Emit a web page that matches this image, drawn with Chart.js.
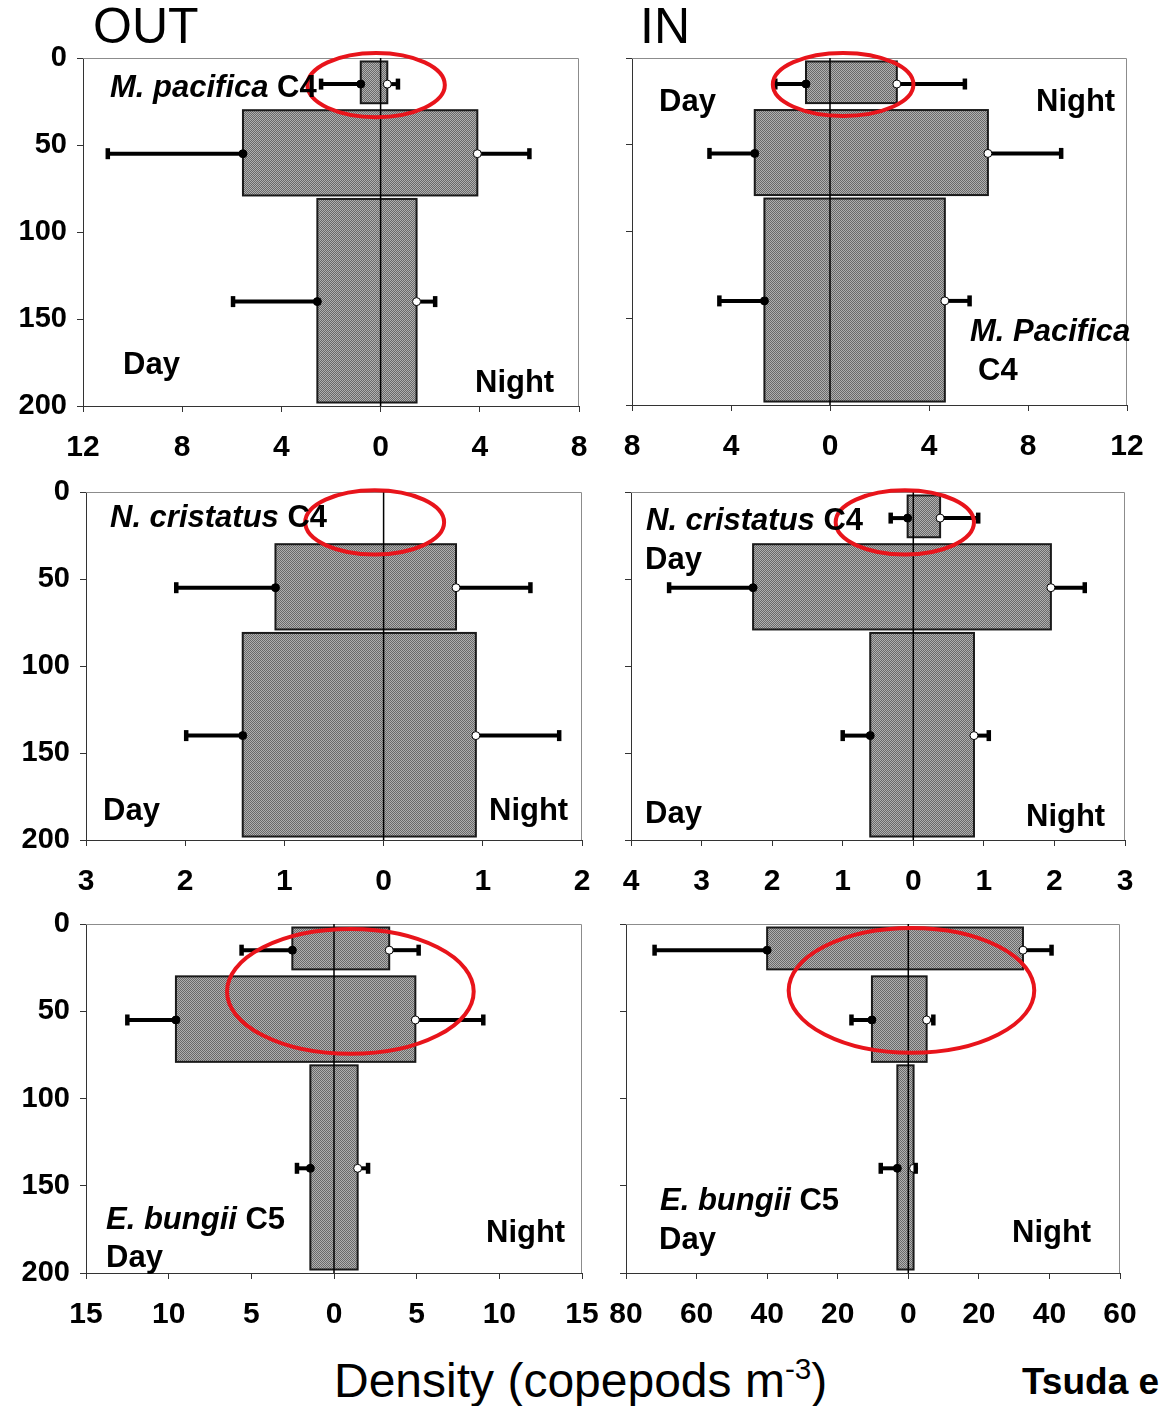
<!DOCTYPE html>
<html>
<head>
<meta charset="utf-8">
<script src="https://cdn.jsdelivr.net/npm/chart.js@4.4.1/dist/chart.umd.min.js"></script>
<style>
  body { margin: 0; width: 1160px; height: 1406px; position: relative; background: #fff; overflow: hidden; font-family: "Liberation Sans", Arial, sans-serif; }
  canvas { position: absolute; }
  .t { position: absolute; line-height: 1; white-space: nowrap; color: #000; }
  .t sup { font-size: 0.62em; vertical-align: 0.62em; }
</style>
</head>
<body>
<div class="t" style="left:93px; top:1px; font-size:50px;">OUT</div>
<div class="t" style="left:640px; top:1px; font-size:50px;">IN</div>
<div class="t" style="left:334px; top:1354px; font-size:48px;">Density (copepods m<sup>-3</sup>)</div>
<div class="t" style="left:1022px; top:1363px; font-size:37px; font-weight:bold;">Tsuda e</div>

<script>
// depth bins (m) shared by all panels
const binTop = [2, 30, 81];
const binBottom = [26, 79, 198];
const sampleDepth = [15, 55, 140];
const depthTicks = [0, 50, 100, 150, 200];

// OUT - M. pacifica C4 (bar = mean, Hi = end of whisker)
const outPacTicks = [-12, -8, -4, 0, 4, 8];
const outPacDay = [0.8, 5.55, 2.55];
const outPacDayHi = [2.4, 11.0, 5.95];
const outPacNight = [0.27, 3.9, 1.45];
const outPacNightHi = [0.7, 6.0, 2.2];

// IN - M. pacifica C4
const inPacTicks = [-8, -4, 0, 4, 8, 12];
const inPacDay = [0.97, 3.04, 2.65];
const inPacDayHi = [2.21, 4.87, 4.47];
const inPacNight = [2.7, 6.38, 4.64];
const inPacNightHi = [5.45, 9.34, 5.64];

// OUT - N. cristatus C4
const outCriTicks = [-3, -2, -1, 0, 1, 2];
const outCriDay = [0, 1.09, 1.42];
const outCriDayHi = [null, 2.09, 1.99];
const outCriNight = [0, 0.73, 0.93];
const outCriNightHi = [null, 1.48, 1.77];

// IN - N. cristatus C4
const inCriTicks = [-4, -3, -2, -1, 0, 1, 2, 3];
const inCriDay = [0.08, 2.27, 0.61];
const inCriDayHi = [0.32, 3.46, 1.0];
const inCriNight = [0.38, 1.95, 0.86];
const inCriNightHi = [0.92, 2.43, 1.07];

// OUT - E. bungii C5
const outBunTicks = [-15, -10, -5, 0, 5, 10, 15];
const outBunDay = [2.52, 9.56, 1.43];
const outBunDayHi = [5.59, 12.5, 2.24];
const outBunNight = [3.34, 4.92, 1.43];
const outBunNightHi = [5.12, 9.03, 2.06];

// IN - E. bungii C5
const inBunTicks = [-80, -60, -40, -20, 0, 20, 40, 60];
const inBunDay = [40, 10.3, 3.1];
const inBunDayHi = [71.9, 16.1, 7.8];
const inBunNight = [32.5, 5.2, 1.5];
const inBunNightHi = [40.6, 7.1, 2.1];

const FONT = '"Liberation Sans", Arial, sans-serif';
const YW = 80, PT = 20, PR = 25, XH = 60;

const panels = [
  { L: 83, T: 58, R: 579, B: 406, ticks: outPacTicks, day: outPacDay, dayHi: outPacDayHi, night: outPacNight, nightHi: outPacNightHi,
    depthLabels: true, ring: [-2.95, 2.59, -2.9, 34],
    labels: [
      { dx: 27, dy: 30, parts: [['M. pacifica', true], [' C4', false]] },
      { dx: 40, dy: 307, parts: [['Day', false]] },
      { dx: 392, dy: 325, parts: [['Night', false]] } ] },
  { L: 632, T: 58, R: 1127, B: 405, ticks: inPacTicks, day: inPacDay, dayHi: inPacDayHi, night: inPacNight, nightHi: inPacNightHi,
    depthLabels: false, ring: [-2.31, 3.37, -2.9, 33.4],
    labels: [
      { dx: 27, dy: 44, parts: [['Day', false]] },
      { dx: 404, dy: 44, parts: [['Night', false]] },
      { dx: 338, dy: 274, parts: [['M. Pacifica', true]] },
      { dx: 346, dy: 313, parts: [['C4', false]] } ] },
  { L: 86, T: 492, R: 582, B: 840, ticks: outCriTicks, day: outCriDay, dayHi: outCriDayHi, night: outCriNight, nightHi: outCriNightHi,
    depthLabels: true, ring: [-0.79, 0.61, -1, 35.9],
    labels: [
      { dx: 24, dy: 26, parts: [['N. cristatus', true], [' C4', false]] },
      { dx: 17, dy: 319, parts: [['Day', false]] },
      { dx: 403, dy: 319, parts: [['Night', false]] } ] },
  { L: 631, T: 492, R: 1125, B: 840, ticks: inCriTicks, day: inCriDay, dayHi: inCriDayHi, night: inCriNight, nightHi: inCriNightHi,
    depthLabels: false, ring: [-1.10, 0.86, -1, 35.9],
    labels: [
      { dx: 15, dy: 29, parts: [['N. cristatus', true], [' C4', false]] },
      { dx: 14, dy: 68, parts: [['Day', false]] },
      { dx: 14, dy: 322, parts: [['Day', false]] },
      { dx: 395, dy: 325, parts: [['Night', false]] } ] },
  { L: 86, T: 924, R: 582, B: 1273, ticks: outBunTicks, day: outBunDay, dayHi: outBunDayHi, night: outBunNight, nightHi: outBunNightHi,
    depthLabels: true, ring: [-6.47, 8.45, 2.9, 74.4],
    labels: [
      { dx: 20, dy: 296, parts: [['E. bungii', true], [' C5', false]] },
      { dx: 20, dy: 334, parts: [['Day', false]] },
      { dx: 400, dy: 309, parts: [['Night', false]] } ] },
  { L: 626, T: 924, R: 1120, B: 1273, ticks: inBunTicks, day: inBunDay, dayHi: inBunDayHi, night: inBunNight, nightHi: inBunNightHi,
    depthLabels: false, ring: [-33.9, 35.7, 2.3, 73.8],
    labels: [
      { dx: 34, dy: 277, parts: [['E. bungii', true], [' C5', false]] },
      { dx: 33, dy: 316, parts: [['Day', false]] },
      { dx: 386, dy: 309, parts: [['Night', false]] } ] }
];

// fine grey checker like the original fill
function makeHatch(ctx) {
  const c = document.createElement('canvas');
  c.width = 2; c.height = 2;
  const g = c.getContext('2d');
  g.fillStyle = '#b0b0b0'; g.fillRect(0, 0, 2, 2);
  g.fillStyle = '#6a6a6a'; g.fillRect(0, 0, 1, 1); g.fillRect(1, 1, 1, 1);
  return ctx.createPattern(c, 'repeat');
}

function panelPlugin(p) {
  return {
    id: 'panelExtras',
    beforeDatasetsDraw(chart) {
      const { ctx, chartArea: a } = chart;
      const x = chart.scales.x, y = chart.scales.y;
      ctx.save();
      ctx.strokeStyle = '#8c8c8c';
      ctx.lineWidth = 1;
      ctx.beginPath();
      ctx.moveTo(a.left, a.top + 0.5);
      ctx.lineTo(a.right - 0.5, a.top + 0.5);
      ctx.lineTo(a.right - 0.5, a.bottom);
      ctx.stroke();

      const hatch = makeHatch(ctx);
      for (let i = 0; i < binTop.length; i++) {
        if (!p.day[i] && !p.night[i]) continue;
        const x1 = x.getPixelForValue(-p.day[i]);
        const x2 = x.getPixelForValue(p.night[i]);
        const y1 = y.getPixelForValue(binTop[i]);
        const y2 = y.getPixelForValue(binBottom[i]);
        ctx.fillStyle = hatch;
        ctx.fillRect(x1, y1, x2 - x1, y2 - y1);
        ctx.strokeStyle = '#1a1a1a';
        ctx.lineWidth = 2;
        ctx.strokeRect(x1, y1, x2 - x1, y2 - y1);
      }
      ctx.restore();
    },
    afterDraw(chart) {
      const { ctx, chartArea: a } = chart;
      const x = chart.scales.x, y = chart.scales.y;
      ctx.save();
      // red ring
      const [rx0, rx1, ry0, ry1] = p.ring;
      const px0 = x.getPixelForValue(rx0), px1 = x.getPixelForValue(rx1);
      const py0 = y.getPixelForValue(ry0), py1 = y.getPixelForValue(ry1);
      ctx.beginPath();
      ctx.ellipse((px0 + px1) / 2, (py0 + py1) / 2, Math.abs(px1 - px0) / 2, Math.abs(py1 - py0) / 2, 0, 0, Math.PI * 2);
      ctx.strokeStyle = '#e8141b';
      ctx.lineWidth = 4;
      ctx.stroke();

      // text labels
      ctx.fillStyle = '#000';
      ctx.textBaseline = 'middle';
      ctx.textAlign = 'left';
      p.labels.forEach(lb => {
        let tx = a.left + lb.dx;
        lb.parts.forEach(([txt, it]) => {
          ctx.font = (it ? 'italic ' : '') + 'bold 31px ' + FONT;
          ctx.fillText(txt, tx, a.top + lb.dy);
          tx += ctx.measureText(txt).width;
        });
      });
      ctx.restore();
    }
  };
}

function whisker(mean, hi, depth, side) {
  const s = side === 'day' ? -1 : 1;
  return {
    data: [{ x: s * mean, y: depth }, { x: s * hi, y: depth }],
    showLine: true,
    borderColor: '#000',
    borderWidth: 4,
    pointStyle: ['circle', 'line'],
    pointRotation: [0, 90],
    pointRadius: [4, 5.5],
    pointBackgroundColor: [side === 'day' ? '#000' : '#fff', '#000'],
    pointBorderColor: '#000',
    pointBorderWidth: [1, 4.5],
    clip: false
  };
}

panels.forEach(p => {
  const W = p.R - p.L, H = p.B - p.T;
  const canvas = document.createElement('canvas');
  canvas.width = YW + W + PR;
  canvas.height = PT + H + XH;
  canvas.style.left = (p.L - YW) + 'px';
  canvas.style.top = (p.T - PT) + 'px';
  canvas.style.width = canvas.width + 'px';
  canvas.style.height = canvas.height + 'px';
  document.body.appendChild(canvas);

  const datasets = [];
  for (let i = 0; i < sampleDepth.length; i++) {
    if (p.dayHi[i] != null) datasets.push(whisker(p.day[i], p.dayHi[i], sampleDepth[i], 'day'));
    if (p.nightHi[i] != null) datasets.push(whisker(p.night[i], p.nightHi[i], sampleDepth[i], 'night'));
  }
  // zero line
  datasets.push({
    data: [{ x: 0, y: depthTicks[0] }, { x: 0, y: depthTicks[depthTicks.length - 1] }],
    showLine: true, borderColor: '#000', borderWidth: 1.5, pointRadius: 0
  });

  new Chart(canvas, {
    type: 'scatter',
    data: { datasets },
    options: {
      responsive: false,
      animation: false,
      devicePixelRatio: 1,
      layout: { padding: { top: PT, right: PR, left: 0, bottom: 0 } },
      plugins: { legend: { display: false }, tooltip: { enabled: false } },
      scales: {
        x: {
          type: 'linear',
          min: p.ticks[0],
          max: p.ticks[p.ticks.length - 1],
          afterBuildTicks: s => { s.ticks = p.ticks.map(v => ({ value: v })); },
          afterFit: s => { s.height = XH; s.paddingLeft = 0; s.paddingRight = 0; },
          ticks: {
            callback: v => Math.abs(v),
            font: { family: FONT, size: 30, weight: 'bold' },
            color: '#000',
            padding: 18,
            maxRotation: 0,
            autoSkip: false
          },
          grid: { drawOnChartArea: false, drawTicks: true, tickLength: 6, color: '#333' },
          border: { display: true, color: '#333', width: 1 }
        },
        y: {
          type: 'linear',
          reverse: true,
          min: depthTicks[0],
          max: depthTicks[depthTicks.length - 1],
          afterBuildTicks: s => { s.ticks = depthTicks.map(v => ({ value: v })); },
          afterFit: s => { s.width = YW; s.paddingTop = 0; s.paddingBottom = 0; },
          ticks: {
            font: { family: FONT, size: 29, weight: 'bold' },
            color: p.depthLabels ? '#000' : 'rgba(0,0,0,0)',
            padding: 10,
            autoSkip: false
          },
          grid: { drawOnChartArea: false, drawTicks: true, tickLength: 6, color: '#333' },
          border: { display: true, color: '#333', width: 1 }
        }
      }
    },
    plugins: [panelPlugin(p)]
  });
});
</script>
</body>
</html>
